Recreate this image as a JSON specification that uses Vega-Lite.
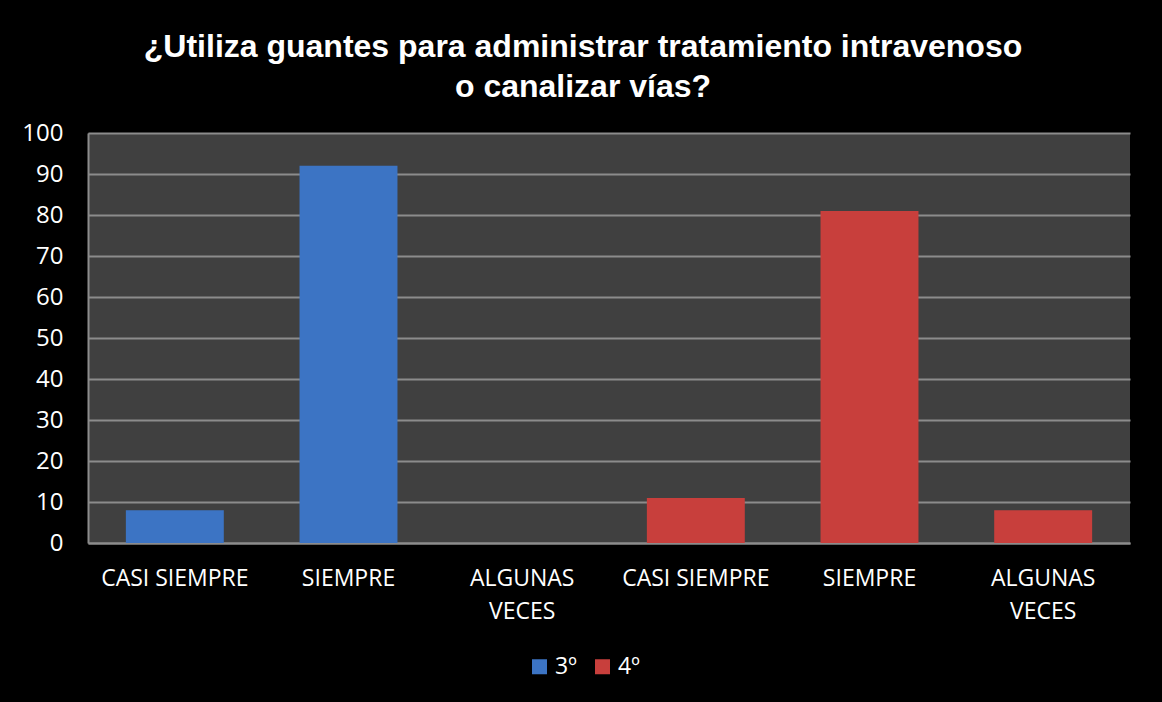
{
  "$schema": "https://vega.github.io/schema/vega-lite/v6.json",
  "autosize": "none",
  "width": 1042,
  "height": 410,
  "padding": {"left": 88, "top": 133, "right": 32, "bottom": 159},
  "background": "#000000",
  "title": {
    "text": ["¿Utiliza guantes para administrar tratamiento intravenoso", "o canalizar vías?"],
    "font": "Liberation Sans",
    "fontSize": 32,
    "fontWeight": "bold",
    "color": "#ffffff",
    "anchor": "middle",
    "dx": -26,
    "lineHeight": 40,
    "offset": 17
  },
  "data": {
    "values": [
      {"categoria": "3º|CASI SIEMPRE", "curso": "3º", "valor": 8},
      {"categoria": "3º|SIEMPRE", "curso": "3º", "valor": 92},
      {"categoria": "3º|ALGUNAS VECES", "curso": "3º", "valor": 0},
      {"categoria": "4º|CASI SIEMPRE", "curso": "4º", "valor": 11},
      {"categoria": "4º|SIEMPRE", "curso": "4º", "valor": 81},
      {"categoria": "4º|ALGUNAS VECES", "curso": "4º", "valor": 8}
    ]
  },
  "mark": {"type": "bar", "stroke": null},
  "encoding": {
    "x": {
      "field": "categoria",
      "type": "nominal",
      "sort": null,
      "scale": {"paddingInner": 0.436, "paddingOuter": 0.218},
      "axis": {
        "title": null,
        "labelAngle": 0,
        "labelExpr": "split(datum.value,'|')[1] == 'ALGUNAS VECES' ? ['ALGUNAS','VECES'] : split(datum.value,'|')[1]",
        "labelFont": "Open Sans",
        "labelFontSize": 23,
        "labelColor": "#ffffff",
        "labelLineHeight": 33,
        "labelPadding": 24,
        "labelBaseline": "top",
        "ticks": false,
        "domainColor": "#8c8c8c",
        "domainWidth": 2,
        "grid": false
      }
    },
    "y": {
      "field": "valor",
      "type": "quantitative",
      "scale": {"domain": [0, 100], "nice": false},
      "axis": {
        "title": null,
        "values": [0, 10, 20, 30, 40, 50, 60, 70, 80, 90, 100],
        "labelFont": "Open Sans",
        "labelFontSize": 24,
        "labelColor": "#ffffff",
        "labelPadding": 25,
        "ticks": false,
        "domainColor": "#8c8c8c",
        "domainWidth": 2,
        "gridColor": "#8c8c8c",
        "gridWidth": 2
      }
    },
    "color": {
      "field": "curso",
      "type": "nominal",
      "scale": {"domain": ["3º", "4º"], "range": ["#3c74c4", "#c83f3c"]},
      "legend": {
        "title": null,
        "orient": "none",
        "legendX": 440,
        "legendY": 522,
        "direction": "horizontal",
        "symbolType": "square",
        "symbolSize": 225,
        "symbolStrokeWidth": 0,
        "labelFont": "Open Sans",
        "labelFontSize": 23,
        "labelColor": "#ffffff",
        "columnPadding": 14,
        "labelOffset": 4
      }
    }
  },
  "config": {
    "view": {"fill": "#404040", "stroke": null}
  }
}
